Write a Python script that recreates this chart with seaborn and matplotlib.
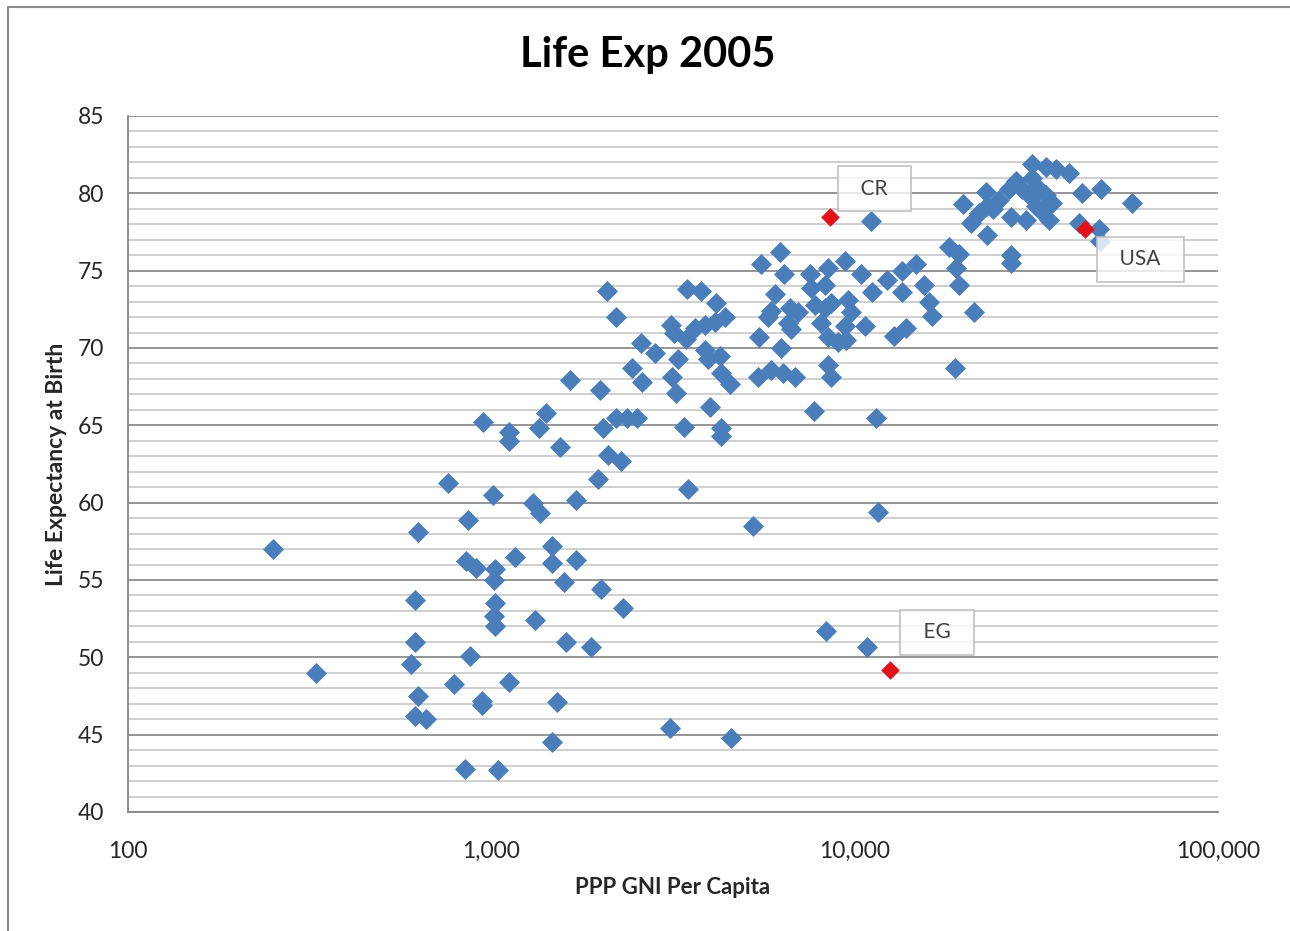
import matplotlib
matplotlib.use("Agg")
import pandas as pd
import matplotlib.pyplot as plt
import matplotlib.ticker as mticker
from matplotlib.lines import Line2D
import seaborn as sns

# PPP GNI per capita (US$) and life expectancy at birth
gni = [250, 330, 600, 615, 615, 630, 630, 615, 660, 760,
       790, 845, 850, 860, 875, 910, 940, 940, 950, 1010,
       1020, 1025, 1025, 1020, 1025, 1045, 1115, 1165, 1115, 1115,
       1300, 1365, 1320, 1465, 1465, 1465, 1355, 1410, 1520, 1550,
       1580, 1610, 1650, 1705, 1705, 1875, 1960, 1985, 2000, 2035,
       2075, 2100, 2200, 2210, 2270, 2300, 2370, 2445, 2525, 2575,
       2605, 2815, 3095, 3115, 3150, 3175, 3215, 3255, 3400, 3425,
       3445, 3470, 3625, 3765, 3865, 3865, 3940, 3990, 4115, 4140,
       4250, 4275, 4275, 4275, 4390, 4530, 4555, 5240, 5410, 5445,
       5510, 5875, 5875, 6025, 6220, 6260, 6340, 6380, 5765, 6625,
       6980, 6540, 6670, 6840, 7540, 7585, 7785, 7735, 8080, 8290,
       8290, 8340, 8430, 8430, 8430, 8600, 8600, 9000, 9410, 9410,
       9470, 9590, 9780, 10390, 10660, 11070, 11140, 11430, 11570, 10790,
       12250, 12810, 13480, 13480, 13820, 14730, 15500, 16000, 16300, 18160,
       18860, 19000, 19350, 19350, 19850, 20880, 21280, 23000, 23140, 23140,
       21970, 26570, 26900, 26900, 26900, 27780, 30750, 33600, 35800, 38900,
       42200, 47600, 58000, 41400, 47000, 47300, 30750, 28850, 32150, 30200,
       33600, 34900, 31550, 32800, 34250, 29600, 24940, 24100]
life_exp = [57.0, 49.0, 49.6, 51.0, 53.7, 58.1, 47.5, 46.2, 46.0, 61.3,
            48.3, 42.8, 56.2, 58.9, 50.1, 55.8, 47.2, 46.9, 65.2, 60.5,
            55.0, 55.7, 53.5, 52.7, 52.0, 42.7, 48.4, 56.5, 64.6, 64.0,
            60.0, 59.3, 52.4, 57.2, 56.1, 44.5, 64.8, 65.8, 47.1, 63.6,
            54.9, 51.0, 67.9, 60.2, 56.3, 50.7, 61.5, 67.3, 54.4, 64.8,
            73.7, 63.1, 65.5, 72.0, 62.7, 53.2, 65.5, 68.7, 65.5, 70.3,
            67.8, 69.7, 45.4, 71.5, 68.1, 71.0, 67.1, 69.3, 64.9, 70.6,
            73.8, 60.9, 71.3, 73.7, 71.5, 69.9, 69.3, 66.2, 71.7, 72.9,
            69.5, 68.4, 64.8, 64.3, 72.0, 67.7, 44.8, 58.5, 68.1, 70.7,
            75.4, 68.6, 72.4, 73.5, 76.2, 70.0, 68.4, 74.8, 72.0, 72.6,
            72.3, 71.6, 71.2, 68.1, 74.8, 73.9, 72.8, 65.9, 71.6, 74.1,
            72.6, 51.7, 75.2, 70.7, 68.9, 72.9, 68.1, 70.4, 75.6, 71.4,
            70.5, 73.1, 72.3, 74.8, 71.4, 78.2, 73.6, 65.5, 59.4, 50.7,
            74.4, 70.8, 75.0, 73.6, 71.3, 75.4, 74.1, 73.0, 72.1, 76.5,
            68.7, 75.2, 76.1, 74.1, 79.3, 78.1, 72.3, 80.1, 79.2, 77.3,
            78.7, 80.3, 78.5, 76.0, 75.5, 80.8, 81.9, 81.7, 81.6, 81.3,
            80.0, 80.3, 79.4, 78.1, 77.7, 76.9, 81.0, 80.3, 80.3, 79.9,
            79.9, 79.4, 79.2, 78.8, 78.3, 78.3, 79.6, 79.0]

# highlighted countries
hl_names = ['CR', 'USA', 'EG']
hl_gni = [8540, 43000, 12490]
hl_life = [78.5, 77.7, 49.2]
hl_offsets = [(32, 20), (40, -22), (34, 27)]  # label offset in points

sns.set_style("white")
plt.rcParams['font.family'] = ['Lato', 'DejaVu Sans']

df = pd.DataFrame({'gni': gni, 'life': life_exp})
df_hl = pd.DataFrame({'name': hl_names, 'gni': hl_gni, 'life': hl_life})

fig = plt.figure(figsize=(12.9, 9.31), dpi=100)
ax = fig.add_axes([128 / 1290, 1 - 812 / 931, (1218 - 128) / 1290, (812 - 116) / 931])

sns.scatterplot(data=df, x='gni', y='life', marker='D', s=115, color='#4a7ebb',
                linewidth=0, ax=ax, zorder=3)
sns.scatterplot(data=df_hl, x='gni', y='life', marker='D', s=90, color='#e3101a',
                linewidth=0, ax=ax, zorder=4)

for name, x, y, off in zip(hl_names, hl_gni, hl_life, hl_offsets):
    ax.annotate('\u2002' + name + '\u2002', (x, y), xytext=off, textcoords='offset points',
                ha='center', va='center', fontsize=15, color='#404040', zorder=5,
                bbox=dict(boxstyle='square,pad=0.6', facecolor=(1, 1, 1, 0.8),
                          edgecolor='#c0c0c0', linewidth=1.2))

ax.set_xscale('log')
ax.set_xlim(100, 100000)
ax.set_ylim(40, 85)
ax.xaxis.set_major_locator(mticker.FixedLocator([100, 1000, 10000, 100000]))
ax.xaxis.set_minor_locator(mticker.NullLocator())
ax.xaxis.set_major_formatter(mticker.FuncFormatter(lambda v, p: f'{v:,.0f}'))
ax.yaxis.set_major_locator(mticker.MultipleLocator(5))
ax.yaxis.set_minor_locator(mticker.MultipleLocator(1))

ax.grid(False)
ax.grid(which='major', axis='y', color='#8c8c8c', linewidth=1.3)
ax.grid(which='minor', axis='y', color='#c2c2c2', linewidth=1.1)
ax.set_axisbelow(True)

for side in ['top', 'right']:
    ax.spines[side].set_visible(False)
for side in ['left', 'bottom']:
    ax.spines[side].set_color('#868686')
    ax.spines[side].set_linewidth(1.3)

ax.tick_params(axis='y', which='major', direction='out', length=5, width=1.2,
               color='#868686', pad=12, labelsize=16.5, labelcolor='#262626')
ax.tick_params(axis='y', which='minor', length=0)
ax.tick_params(axis='x', which='major', direction='out', length=5, width=1.2,
               color='#868686', pad=16, labelsize=16.5, labelcolor='#262626')

ax.set_xlabel('PPP GNI Per Capita', fontsize=16, fontweight='bold', labelpad=11)
ax.set_ylabel('Life Expectancy at Birth', fontsize=16.5, fontweight='bold', labelpad=8)

fig.text(0.502, 1 - 55 / 931, 'Life Exp 2005', ha='center', va='center',
         fontsize=30, fontweight='bold', color='black')

# chart area border (only top and left edges are visible in the crop)
fig.add_artist(Line2D([8 / 1290, 8 / 1290], [0, 1 - 7 / 931], transform=fig.transFigure,
                      color='#8a8a8a', linewidth=1.5))
fig.add_artist(Line2D([8 / 1290, 1], [1 - 7 / 931, 1 - 7 / 931], transform=fig.transFigure,
                      color='#8a8a8a', linewidth=1.5))

fig.savefig('out.png', dpi=100)
